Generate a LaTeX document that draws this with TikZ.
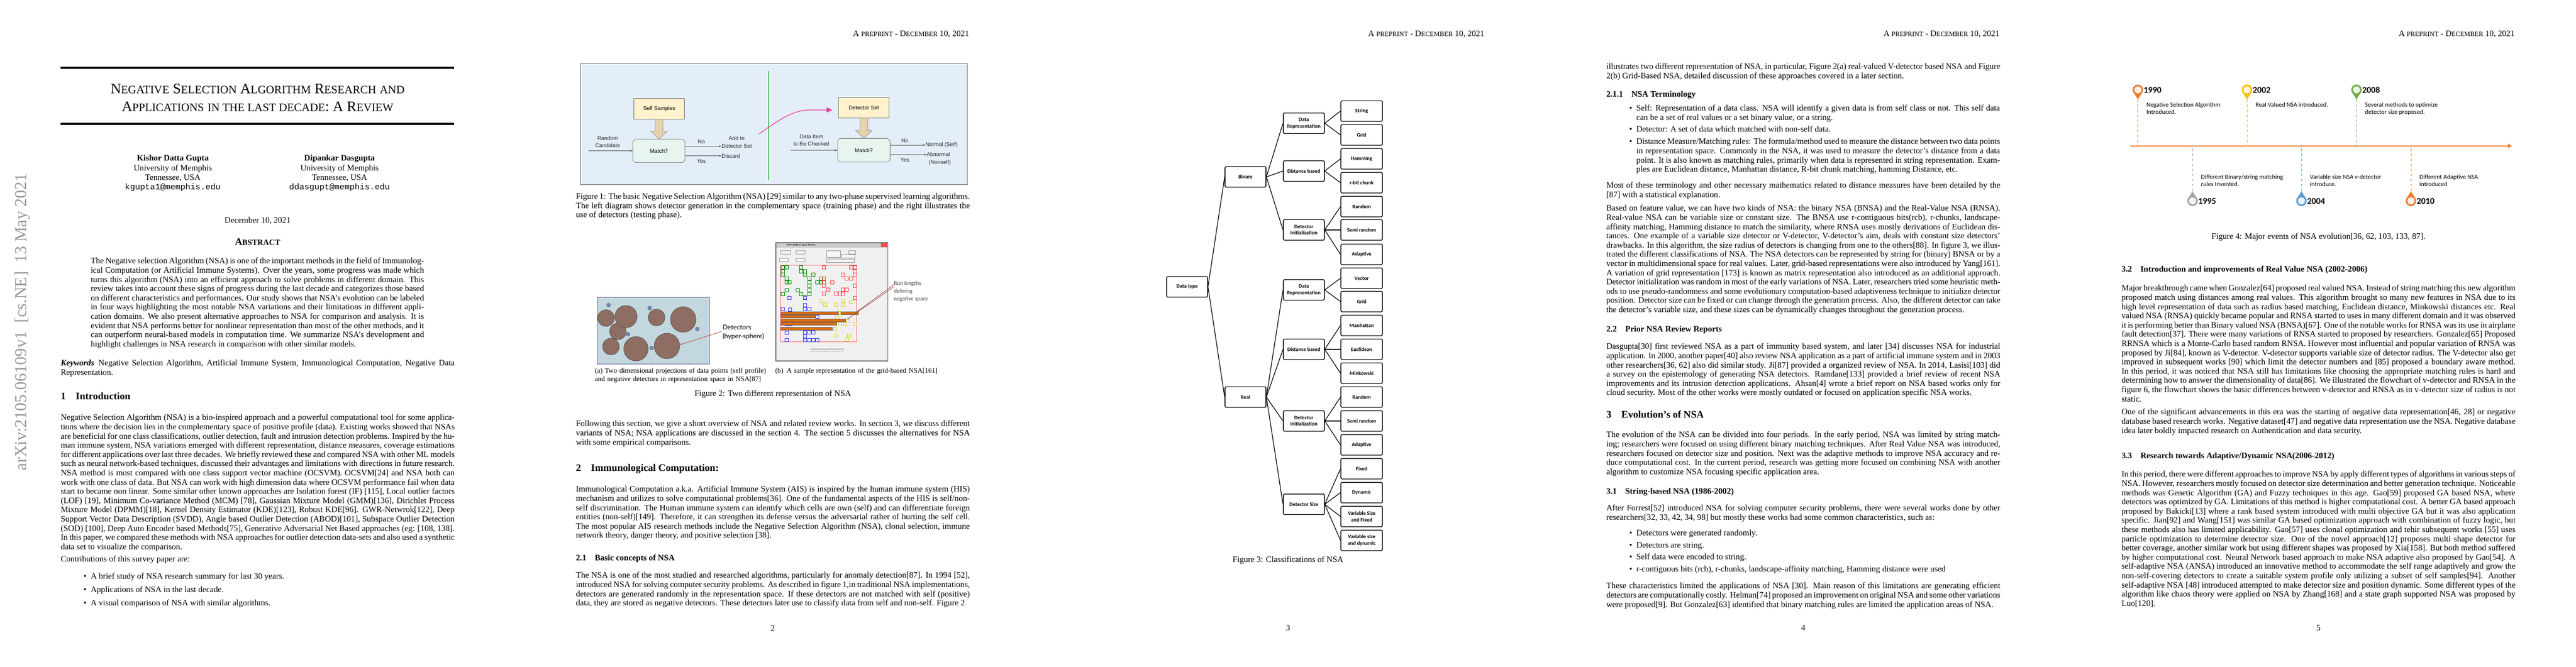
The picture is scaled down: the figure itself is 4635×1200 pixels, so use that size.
\documentclass[tikz,border=0pt]{standalone}
\usepackage{fontspec}
\setmainfont{Liberation Serif}
\setmonofont{Liberation Mono}
\newfontfamily\carlito{Carlito}
\newfontfamily\arialf{Liberation Sans}
\newfontfamily\gillf{Lato}
\usetikzlibrary{arrows.meta,calc}
\newdimen\pxu \pxu=0.6606pt
\newcommand\tsc[2]{#1{\fontsize{13.6}{13.6}\selectfont\MakeUppercase{#2}}}
\newcommand\hdr{A {\fontsize{8}{8}\selectfont PREPRINT} - D{\fontsize{8}{8}\selectfont ECEMBER} 10, 2021}
\definecolor{figblue}{HTML}{E3EEF9}
\definecolor{selfyel}{HTML}{FFF2CC}
\definecolor{matchgrn}{HTML}{E8F5EE}
\definecolor{tanarr}{HTML}{E6D3AE}
\definecolor{pinkarr}{HTML}{E8409A}
\definecolor{tlorange}{HTML}{ED7D31}
\definecolor{tlgold}{HTML}{FFC000}
\definecolor{tlgreen}{HTML}{70AD47}
\definecolor{tlgray}{HTML}{A5A5A5}
\definecolor{tlblue}{HTML}{5B9BD5}
\definecolor{brownc}{HTML}{8E6E63}
\definecolor{hsbg}{HTML}{C3D8DE}
\definecolor{smallc}{HTML}{7585B5}
\definecolor{barorg}{HTML}{E36C0A}
\definecolor{redarr}{HTML}{C0504D}
\tikzset{
 txt/.style={anchor=north west,inner sep=0pt,text width=6.5in,align=justify,font=\fontsize{10}{11}\selectfont},
 btxt/.style={txt,text width=6.0in},
 sec/.style={anchor=base west,inner sep=0pt,font=\fontsize{12}{14}\selectfont\bfseries},
 subsec/.style={anchor=base west,inner sep=0pt,font=\fontsize{10}{11}\selectfont\bfseries},
 pnum/.style={inner sep=0pt,font=\fontsize{10}{11}\selectfont},
 hdrs/.style={anchor=base east,inner sep=0pt,font=\fontsize{10}{11}\selectfont},
 capc/.style={inner sep=0pt,font=\fontsize{10}{11}\selectfont},
 fsans/.style={inner sep=1pt,font=\arialf\fontsize{6.5}{8.8}\selectfont,align=center,text=black!85},
 fbox/.style={draw=black!55,line width=0.5pt,font=\arialf\fontsize{6.5}{8}\selectfont},
 farr/.style={draw=black!65,line width=0.5pt,-{Stealth[length=3pt,width=2.4pt]}},
 tbox/.style={draw,line width=0.9pt,rounded corners=1.5pt,minimum width=74*\pxu,minimum height=37*\pxu,inner sep=1pt,align=center,font=\carlito\bfseries\fontsize{6.3}{7.6}\selectfont},
 tleaf/.style={tbox,minimum width=75*\pxu},
 tedge/.style={line width=0.8pt},
 tldot/.style={circle,inner sep=0pt,minimum size=3.2*\pxu},
 tlyear/.style={anchor=west,inner sep=0pt,font=\carlito\bfseries\fontsize{10.5}{12}\selectfont},
 tldesc/.style={anchor=north west,inner sep=0pt,align=left,font=\carlito\fontsize{7.5}{8.8}\selectfont},
}
\newcommand\pinU[6]{%
 \fill[#4] (#2,161.7) circle (9.5);
 \fill[#4] (#2-6.8,168) -- (#2+6.8,168) -- (#2,179) -- cycle;
 \fill[#4!12] (#2,161.7) circle (6.3);
 \coordinate (#1tip) at (#2,179);
 \node[tldot,fill=#4] (#1dot) at (#2,262.7) {};
 \draw[#4,dashed,line width=0.5pt] (#1tip) -- (#1dot);
 \node[tlyear] (#1y) at (#2+10,162) {#3};
 \node[tldesc] (#1d) at (#2+15,184) {#5\\#6};
}
\newcommand\pinD[6]{%
 \fill[#4] (#2,361.7) circle (9.5);
 \fill[#4] (#2-6.8,355.4) -- (#2+6.8,355.4) -- (#2,344.3) -- cycle;
 \fill[#4!12] (#2,361.7) circle (6.3);
 \coordinate (#1tip) at (#2,344.3);
 \node[tldot,fill=#4] (#1dot) at (#2,262.7) {};
 \draw[#4,dashed,line width=0.5pt] (#1tip) -- (#1dot);
 \node[tlyear] (#1y) at (#2+10,362) {#3};
 \node[tldesc] (#1d) at (#2+15,314) {#5\\#6};
}
\begin{document}
\begin{tikzpicture}[x=0.0091743in,y=-0.0091743in]
\useasboundingbox[fill=white] (0,0) rectangle (4635,1200);

%================ PAGE 1 ================
\node[rotate=90,inner sep=0pt,text=black!40,font=\fontsize{20}{20}\selectfont] (stamp) at (40,580) {arXiv:2105.06109v1\ \ [cs.NE]\ \ 13 May 2021};
\draw[line width=2pt] (109,122) -- (817,122);
\node[inner sep=0pt,align=center,font=\fontsize{17.28}{21}\selectfont] (title) at (463.5,176)
 {\tsc{N}{egative} \tsc{S}{election} \tsc{A}{lgorithm} \tsc{R}{esearch} \tsc{}{and}\\
  \tsc{A}{pplications} \tsc{}{in the last decade}: \tsc{A}{} \tsc{R}{eview}};
\draw[line width=2pt] (109,223) -- (817,223);
\node[inner sep=0pt,align=center,font=\fontsize{10}{11.5}\selectfont,anchor=north] (au1) at (311,279)
 {\textbf{Kishor Datta Gupta}\\University of Memphis\\Tennessee, USA\\\texttt{kgupta1@memphis.edu}};
\node[inner sep=0pt,align=center,font=\fontsize{10}{11.5}\selectfont,anchor=north] (au2) at (611,279)
 {\textbf{Dipankar Dasgupta}\\University of Memphis\\Tennessee, USA\\\texttt{ddasgupt@memphis.edu}};
\node[capc] (date) at (463.5,397) {December 10, 2021};
\node[capc,font=\fontsize{12}{14}\selectfont\bfseries] (abs) at (463.5,436) {A{\fontsize{9.6}{9.6}\selectfont BSTRACT}};
\node[txt,text width=5.5in] (abstxt) at (163,464) {The Negative selection Algorithm (NSA) is one of the important methods in the field of Immunological Computation (or Artificial Immune Systems). Over the years, some progress was made which turns this algorithm (NSA) into an efficient approach to solve problems in different domain. This review takes into account these signs of progress during the last decade and categorizes those based on different characteristics and performances. Our study shows that NSA's evolution can be labeled in four ways highlighting the most notable NSA variations and their limitations in different application domains. We also present alternative approaches to NSA for comparison and analysis. It is evident that NSA performs better for nonlinear representation than most of the other methods, and it can outperform neural-based models in computation time. We summarize NSA's development and highlight challenges in NSA research in comparison with other similar models.};
\node[txt] (kw) at (109,648) {\textbf{\textit{Keywords}}\enspace Negative Selection Algorithm, Artificial Immune System, Immunological Computation, Negative Data Representation.};
\node[sec] (s1) at (109,719) {1\quad Introduction};
\node[txt] (intro) at (109,746) {Negative Selection Algorithm (NSA) is a bio-inspired approach and a powerful computational tool for some applications where the decision lies in the complementary space of positive profile (data). Existing works showed that NSAs are beneficial for one class classifications, outlier detection, fault and intrusion detection problems. Inspired by the human immune system, NSA variations emerged with different representation, distance measures, coverage estimations for different applications over last three decades. We briefly reviewed these and compared NSA with other ML models such as neural network-based techniques, discussed their advantages and limitations with directions in future research. NSA method is most compared with one class support vector machine (OCSVM). OCSVM[24] and NSA both can work with one class of data. But NSA can work with high dimension data where OCSVM performance fail when data start to became non linear. Some similar other known approaches are Isolation forest (IF) [115], Local outlier factors (LOF) [19], Minimum Co-variance Method (MCM) [78], Gaussian Mixture Model (GMM)[136], Dirichlet Process Mixture Model (DPMM)[18], Kernel Density Estimator (KDE)[123], Robust KDE[96]. GWR-Netwrok[122], Deep Support Vector Data Description (SVDD), Angle based Outlier Detection (ABOD)[101], Subspace Outlier Detection (SOD) [100], Deep Auto Encoder based Methods[75], Generative Adversarial Net Based approaches (eg: [108, 138]. In this paper, we compared these methods with NSA approaches for outlier detection data-sets and also used a synthetic data set to visualize the comparison.};
\node[txt] (contrib) at (109,1001) {Contributions of this survey paper are:};
\node[btxt] (c1) at (163,1032) {\llap{\textbullet\hspace{5pt}}A brief study of NSA research summary for last 30 years.};
\node[btxt] (c2) at (163,1056) {\llap{\textbullet\hspace{5pt}}Applications of NSA in the last decade.};
\node[btxt] (c3) at (163,1080) {\llap{\textbullet\hspace{5pt}}A visual comparison of NSA with similar algorithms.};

%================ PAGE 2 ================
\begin{scope}[shift={(927,0)}]
\node[hdrs] (h2) at (817,65) {\hdr};
% figure 1
\draw[draw=black!55,fill=figblue,line width=0.6pt] (117.5,114.7) rectangle (813.6,332.7);
\draw[green!60!black,line width=0.6pt] (455,128) -- (455,324);
\node[fbox,fill=selfyel,minimum width=91.5*\pxu,minimum height=36.3*\pxu] (ss) at (259.2,195.9) {Self Samples};
\node[fbox,fill=matchgrn,rounded corners=4pt,minimum width=93.8*\pxu,minimum height=42*\pxu] (m1) at (258.6,271.7) {Match?};
\draw[fill=tanarr,draw=black!50,line width=0.4pt] ($(ss.south)+(-7,0)$) -- ($(m1.north)+(-7,-14)$) -- ($(m1.north)+(-15,-14)$) -- (m1.north) -- ($(m1.north)+(15,-14)$) -- ($(m1.north)+(7,-14)$) -- ($(ss.south)+(7,0)$) -- cycle;
\node[fsans] (rc) at (166.4,255.5) {Random\\Candidate};
\coordinate (rcs) at (132,271.7);
\draw[farr] (rcs) -- (m1.west);
\node[fsans,anchor=west,inner sep=0pt] (dset) at (371,263.3) {Detector Set};
\node[fsans] (addto) at (dset.north |- 0,249) {Add to};
\node[fsans,anchor=west,inner sep=0pt] (disc) at (371,280.7) {Discard};
\draw[farr] (m1.east |- dset.west) -- (dset.west);
\draw[farr] (m1.east |- disc.west) -- (disc.west);
\node[fsans] (no1) at (335,254.7) {No};
\node[fsans] (yes1) at (335,290.3) {Yes};
\node[fbox,fill=selfyel,minimum width=91.3*\pxu,minimum height=36.3*\pxu] (ds) at (627.3,193.9) {Detector Set};
\node[fbox,fill=matchgrn,rounded corners=4pt,minimum width=94.6*\pxu,minimum height=42.4*\pxu] (m2) at (627.3,270.5) {Match?};
\draw[fill=tanarr,draw=black!50,line width=0.4pt] ($(ds.south)+(-7,0)$) -- ($(m2.north)+(-7,-14)$) -- ($(m2.north)+(-15,-14)$) -- (m2.north) -- ($(m2.north)+(15,-14)$) -- ($(m2.north)+(7,-14)$) -- ($(ds.south)+(7,0)$) -- cycle;
\coordinate (pk) at (439,241);
\draw[pinkarr,line width=0.8pt,-{Triangle[length=7pt,width=6pt]},shorten >=7pt] (pk) .. controls (485,208) and (505,198) .. (532,198) -- (ds.west |- 0,198);
\node[fsans] (ditem) at (533,252.5) {Data Item\\to Be Checked};
\coordinate (dis) at (495.7,270.5);
\draw[farr] (dis) -- (m2.west);
\node[fsans,anchor=west,inner sep=0pt] (norm) at (738,261) {Normal (Self)};
\node[fsans,anchor=west,inner sep=0pt] (abn) at (740,278.3) {Abnormal};
\node[fsans,inner sep=0pt] (nons) at (764,293) {(Nonself)};
\draw[farr] (m2.east |- norm.west) -- (norm.west);
\draw[farr] (m2.east |- abn.west) -- (abn.west);
\node[fsans] (no2) at (701,252.7) {No};
\node[fsans] (yes2) at (701,288.3) {Yes};
\node[txt] (cap1) at (109,348) {Figure 1: The basic Negative Selection Algorithm (NSA) [29] similar to any two-phase supervised learning algorithms. The left diagram shows detector generation in the complementary space (training phase) and the right illustrates the use of detectors (testing phase).};
% figure 2a
\draw[fill=hsbg,draw=black!60!blue!60,line width=0.6pt] (147,535.7) rectangle (349,655.7);
\foreach \cx/\cy/\r in {163.4/572.7/15, 184.8/596.7/15, 199.4/570/20, 172.3/624/15, 217.3/628/22, 254.4/571.7/15, 302.3/575.3/23, 273/623/23}
  \draw[fill=brownc,draw=black!70,line width=0.4pt] (\cx,\cy) circle (\r);
\foreach \cx/\cy in {168/549.3, 242/554.7, 203/601.7, 327.6/592.3, 245.5/626.7}
  \draw[fill=smallc,draw=black!60,line width=0.3pt] (\cx,\cy) circle (3.6);
\node[anchor=west,inner sep=0pt,align=left,font=\gillf\fontsize{7.8}{10.5}\selectfont] (detl) at (373,598) {Detectors\\(hyper-sphere)};
\coordinate (dett) at (295.5,621);
\draw[redarr,line width=0.6pt,-{Stealth[length=3pt]}] ($(detl.west)+(-2,-1)$) -- (dett);
% figure 2b
\draw[fill=black!6,draw=black!55,line width=0.8pt] (469,437) rectangle (670.5,650);
\fill[black!20] (469.5,437.5) rectangle (670,446);
\fill[red!70] (658,438) rectangle (669,445);
\node[anchor=west,inner sep=0pt,font=\fontsize{2.6}{3}\selectfont\bfseries] (wtitle) at (488,441.5) {MIT Cell Based Space Division};
\foreach \a/\b/\w in {963/63/50, 1042/63/45, 1308/63/35}
  \draw[fill=black!3,draw=black!40,line width=0.3pt] (133+\a/2.8,430+\b/3) rectangle ++(\w/2.8,6);
\draw[fill=black!3,draw=black!40,line width=0.3pt] (133+1195/2.8,430+63/3) rectangle ++(70/2.8,12);
\draw[fill=black!3,draw=black!40,line width=0.3pt] (133+1270/2.8,430+85/3) rectangle ++(70/2.8,6);
\draw[fill=black!3,draw=black!40,line width=0.3pt] (133+1195/2.8,430+110/3) rectangle ++(140/2.8,6);
\draw[fill=white,draw=black!40,line width=0.3pt] (133+958/2.8,430+105/3) rectangle ++(45/2.8,5);
\draw[fill=black!3,draw=black!40,line width=0.3pt] (133+1042/2.8,430+105/3) rectangle ++(45/2.8,6);
\draw[red!60,line width=0.4pt] (477.6,477) rectangle (614.4,615);
\foreach \a/\b in {967/145,985/145,967/165,967/185,985/205,985/225,1060/145,1060/165,1080/165,1080/185,1100/205,1100/225,1100/245,1120/185,1140/225,1160/205,1160/225,1000/225,985/268,967/288,1042/268,1060/288,1080/308,1100/268,1100/288}
  \draw[green!55!black,line width=0.4pt] (133+\a/2.8,430+\b/3) rectangle ++(6,6);
\foreach \a/\b in {1175/145,1310/145,1330/145,1330/165,1330/185,1270/185,1290/205,1310/205,1175/205,1175/225,1215/225,1175/245,1195/265,1175/285,1235/285,1255/285,1270/265,1290/265,1270/285,1330/245,1330/310}
  \draw[red!75,line width=0.4pt] (133+\a/2.8,430+\b/3) rectangle ++(6,6);
\foreach \a/\b in {1160/325,1180/345,1235/345,1270/345,1270/325,1310/330,1250/390,1240/415,1295/432,1255/452,1280/452,1330/452,1230/477,1235/515,1300/515,1290/535}
  \draw[yellow!85!black,line width=0.4pt] (133+\a/2.8,430+\b/3) rectangle ++(6,6);
\foreach \a/\b in {1000/310,1080/310,967/370,1003/372,1080/350,1080/370,1100/370,1140/413,985/452,1005/452,985/500,1080/497,1100/497,1120/497,1080/517,1080/537,1100/537,1120/537,1140/537,985/537}
  \draw[blue!75,line width=0.4pt] (133+\a/2.8,430+\b/3) rectangle ++(6,6);
\foreach \xa/\xb/\ya in {478.4/581/561.7, 586.6/617/561.7, 478.4/540/567.7, 478.4/594.7/574, 478.4/578.7/580.7, 478.4/570.5/589}
  \draw[fill=barorg,draw=black!60,line width=0.3pt] (\xa,\ya) rectangle (\xb,\ya+5);
\draw[black!50,line width=0.4pt] (531,628) -- (591,628);
\draw[black!50,line width=0.3pt,densely dotted] (531,632) -- (591,632);
\node[anchor=north west,inner sep=0pt,align=left,font=\gillf\fontsize{6.3}{9.2}\selectfont,text=black!75] (runl) at (681,506) {Run lengths\\defining\\negative space};
\coordinate (rt1) at (615,561);
\coordinate (rt2) at (597,575);
\draw[redarr!80!black,line width=0.5pt,-{Stealth[length=2.5pt]}] ($(runl.north west)+(1,6)$) -- (rt1);
\draw[redarr!80!black,line width=0.5pt,-{Stealth[length=2.5pt]}] ($(runl.north west)+(1,10)$) -- (rt2);
\node[txt,text width=3.0in,align=left,font=\fontsize{8.3}{10}\selectfont] (sa) at (143,662) {(a) Two dimensional projections of data points (self profile) and negative detectors in representation space in NSA[87]};
\node[txt,text width=3.0in,align=left,font=\fontsize{8.3}{10}\selectfont] (sb) at (467.5,662) {(b)\enspace A sample representation of the grid-based NSA[161]};
\node[capc] (cap2) at (463.5,710) {Figure 2: Two different representation of NSA};
\node[txt] (follow) at (109,757) {Following this section, we give a short overview of NSA and related review works. In section 3, we discuss different variants of NSA; NSA applications are discussed in the section 4. The section 5 discusses the alternatives for NSA with some empirical comparisons.};
\node[sec] (s2) at (109,848) {2\quad Immunological Computation:};
\node[txt] (imm) at (109,875) {Immunological Computation a.k.a. Artificial Immune System (AIS) is inspired by the human immune system (HIS) mechanism and utilizes to solve computational problems[36]. One of the fundamental aspects of the HIS is self/non-self discrimination. The Human immune system can identify which cells are own (self) and can differentiate foreign entities (non-self)[149]. Therefore, it can strengthen its defense versus the adversarial rather of hurting the self cell. The most popular AIS research methods include the Negative Selection Algorithm (NSA), clonal selection, immune network theory, danger theory, and positive selection [38].};
\node[subsec] (s21) at (109,1009) {2.1\quad Basic concepts of NSA};
\node[txt] (basic) at (109,1030) {The NSA is one of the most studied and researched algorithms, particularly for anomaly detection[87]. In 1994 [52], introduced NSA for solving computer security problems. As described in figure 1,in traditional NSA implementations, detectors are generated randomly in the representation space. If these detectors are not matched with self (positive) data, they are stored as negative detectors. These detectors later use to classify data from self and non-self. Figure 2};
\node[pnum] (pn2) at (463.5,1131) {2};
\end{scope}

%================ PAGE 3 ================
\begin{scope}[shift={(1854,0)}]
\node[hdrs] (h3) at (817,65) {\hdr};
\node[tbox] (dt) at (282,516.5) {Data type};
\node[tbox] (bin) at (387,318.5) {Binary};
\node[tbox] (real) at (387,715) {Real};
\node[tbox] (b1) at (492,222) {Data\\Representation};
\node[tbox] (b2) at (492,308) {Distance based};
\node[tbox] (b3) at (492,414) {Detector\\Initialization};
\node[tbox] (r1) at (492,522) {Data\\Representation};
\node[tbox] (r2) at (492,629) {Distance based};
\node[tbox] (r3) at (492,758) {Detector\\Initialization};
\node[tbox] (r4) at (492,908) {Detector Size};
\node[tleaf] (l1) at (596,200) {String};
\node[tleaf] (l2) at (596,243) {Grid};
\node[tleaf] (l3) at (596,286) {Hamming};
\node[tleaf] (l4) at (596,329) {r-bit chunk};
\node[tleaf] (l5) at (596,372) {Random};
\node[tleaf] (l6) at (596,414) {Semi random};
\node[tleaf] (l7) at (596,458) {Adaptive};
\node[tleaf] (l8) at (596,501) {Vector};
\node[tleaf] (l9) at (596,543) {Grid};
\node[tleaf] (l10) at (596,586) {Manhattan};
\node[tleaf] (l11) at (596,629) {Euclidean};
\node[tleaf] (l12) at (596,672) {Minkowski};
\node[tleaf] (l13) at (596,715) {Random};
\node[tleaf] (l14) at (596,758) {Semi random};
\node[tleaf] (l15) at (596,801) {Adaptive};
\node[tleaf] (l16) at (596,844) {Fixed};
\node[tleaf] (l17) at (596,887) {Dynamic};
\node[tleaf] (l18) at (596,930) {Variable Size\\and Fixed};
\node[tleaf] (l19) at (596,973) {Variable size\\and\ dynamic};
\foreach \p/\c in {dt/bin,dt/real,bin/b1,bin/b2,bin/b3,real/r1,real/r2,real/r3,real/r4,b1/l1,b1/l2,b2/l3,b2/l4,b3/l5,b3/l6,b3/l7,r1/l8,r1/l9,r2/l10,r2/l11,r2/l12,r3/l13,r3/l14,r3/l15,r4/l16,r4/l17,r4/l18,r4/l19}
  \draw[tedge] (\p.east) -- (\c.west);
\node[capc] (cap3) at (463.5,1009) {Figure 3: Classifications of NSA};
\node[pnum] (pn3) at (463.5,1131) {3};
\end{scope}

%================ PAGE 4 ================
\begin{scope}[shift={(2781,0)}]
\node[hdrs] (h4) at (817,65) {\hdr};
\node[txt] (p4a) at (109,114) {illustrates two different representation of NSA, in particular, Figure 2(a) real-valued V-detector based NSA and Figure 2(b) Grid-Based NSA, detailed discussion of these approaches covered in a later section.};
\node[subsec] (s211) at (109,174) {2.1.1\quad NSA Terminology};
\node[btxt] (t1) at (163,189) {\llap{\textbullet\hspace{5pt}}Self: Representation of a data class. NSA will identify a given data is from self class or not. This self data can be a set of real values or a set binary value, or a string.};
\node[btxt] (t2) at (163,227) {\llap{\textbullet\hspace{5pt}}Detector: A set of data which matched with non-self data.};
\node[btxt] (t3) at (163,249) {\llap{\textbullet\hspace{5pt}}Distance Measure/Matching rules: The formula/method used to measure the distance between two data points in representation space. Commonly in the NSA, it was used to measure the detector's distance from a data point. It is also known as matching rules, primarily when data is represented in string representation. Examples are Euclidean distance, Manhattan distance, R-bit chunk matching, hamming Distance, etc.};
\node[txt] (p4b) at (109,328) {Most of these terminology and other necessary mathematics related to distance measures have been detailed by the [87] with a statistical explanation.};
\node[txt] (p4c) at (109,369) {Based on feature value, we can have two kinds of NSA: the binary NSA (BNSA) and the Real-Value NSA (RNSA). Real-value NSA can be variable size or constant size. The BNSA use r-contiguous bits(rcb), r-chunks, landscape-affinity matching, Hamming distance to match the similarity, where RNSA uses mostly derivations of Euclidean distances. One example of a variable size detector or V-detector, V-detector's aim, deals with constant size detectors' drawbacks. In this algorithm, the size radius of detectors is changing from one to the others[88]. In figure 3, we illustrated the different classifications of NSA. The NSA detectors can be represented by string for (binary) BNSA or by a vector in multidimensional space for real values. Later, grid-based representations were also introduced by Yang[161]. A variation of grid representation [173] is known as matrix representation also introduced as an additional approach. Detector initialization was random in most of the early variations of NSA. Later, researchers tried some heuristic methods to use pseudo-randomness and some evolutionary computation-based adaptiveness technique to initialize detector position. Detector size can be fixed or can change through the generation process. Also, the different detector can take the detector's variable size, and these sizes can be dynamically changes throughout the generation process.};
\node[subsec] (s22) at (109,597) {2.2\quad Prior NSA Review Reports};
\node[txt] (p4d) at (109,618) {Dasgupta[30] first reviewed NSA as a part of immunity based system, and later [34] discusses NSA for industrial application. In 2000, another paper[40] also review NSA application as a part of artificial immune system and in 2003 other researchers[36, 62] also did similar study. Ji[87] provided a organized review of NSA. In 2014, Lasisi[103] did a survey on the epistemology of generating NSA detectors. Ramdane[133] provided a brief review of recent NSA improvements and its intrusion detection applications. Ahsan[4] wrote a brief report on NSA based works only for cloud security. Most of the other works were mostly outdated or focused on application specific NSA works.};
\node[sec] (s3) at (109,752) {3\quad Evolution's of NSA};
\node[txt] (p4e) at (109,777) {The evolution of the NSA can be divided into four periods. In the early period, NSA was limited by string matching; researchers were focused on using different binary matching techniques. After Real Value NSA was introduced, researchers focused on detector size and position. Next was the adaptive methods to improve NSA accuracy and reduce computational cost. In the current period, research was getting more focused on combining NSA with another algorithm to customize NSA focusing specific application area.};
\node[subsec] (s31) at (109,889) {3.1\quad String-based NSA (1986-2002)};
\node[txt] (p4f) at (109,909) {After Forrest[52] introduced NSA for solving computer security problems, there were several works done by other researchers[32, 33, 42, 34, 98] but mostly these works had some common characteristics, such as:};
\node[btxt] (d1) at (163,954) {\llap{\textbullet\hspace{5pt}}Detectors were generated randomly.};
\node[btxt] (d2) at (163,976) {\llap{\textbullet\hspace{5pt}}Detectors are string.};
\node[btxt] (d3) at (163,997) {\llap{\textbullet\hspace{5pt}}Self data were encoded to string.};
\node[btxt] (d4) at (163,1019) {\llap{\textbullet\hspace{5pt}}r-contiguous bits (rcb), r-chunks, landscape-affinity matching, Hamming distance were used};
\node[txt] (p4g) at (109,1049) {These characteristics limited the applications of NSA [30]. Main reason of this limitations are generating efficient detectors are computationally costly. Helman[74] proposed an improvement on original NSA and some other variations were proposed[9]. But Gonzalez[63] identified that binary matching rules are limited the application areas of NSA.};
\node[pnum] (pn4) at (463.5,1131) {4};
\end{scope}

%================ PAGE 5 ================
\begin{scope}[shift={(3708,0)}]
\node[hdrs] (h5) at (817,65) {\hdr};
\coordinate (axs) at (124.7,262.7);
\coordinate (axe) at (812,262.7);
\draw[tlorange,line width=1.1pt,-{Triangle[length=5pt,width=5pt]}] (axs) -- (axe);
\pinU{e90}{138.7}{1990}{tlorange}{Negative Selection Algorithm}{Introduced.}
\pinD{e95}{237}{1995}{tlgray}{Different Binary/string matching}{rules Invented.}
\pinU{e02}{335}{2002}{tlgold}{Real Valued NSA introduced.}{}
\pinD{e04}{433}{2004}{tlblue}{Variable size NSA v-detector}{introduce.}
\pinU{e08}{532}{2008}{tlgreen}{Several methods to optimize}{detector size proposed.}
\pinD{e10}{630}{2010}{tlorange}{Different Adaptive NSA}{introduced}
\node[capc] (cap4) at (463.5,427) {Figure 4: Major events of NSA evolution[36, 62, 103, 133, 87].};
\node[subsec] (s32) at (109,489) {3.2\quad Introduction and improvements of Real Value NSA (2002-2006)};
\node[txt] (p5a) at (109,513) {Major breakthrough came when Gonzalez[64] proposed real valued NSA. Instead of string matching this new algorithm proposed match using distances among real values. This algorithm brought so many new features in NSA due to its high level representation of data such as radius based matching, Euclidean distance, Minkowski distances etc. Real valued NSA (RNSA) quickly became popular and RNSA started to uses in many different domain and it was observed it is performing better than Binary valued NSA (BNSA)[67]. One of the notable works for RNSA was its use in airplane fault detection[37]. There were many variations of RNSA started to proposed by researchers. Gonzalez[65] Proposed RRNSA which is a Monte-Carlo based random RNSA. However most influential and popular variation of RNSA was proposed by Ji[84], known as V-detector. V-detector supports variable size of detector radius. The V-detector also get improved in subsequent works [90] which limit the detector numbers and [85] proposed a boundary aware method. In this period, it was noticed that NSA still has limitations like choosing the appropriate matching rules is hard and determining how to answer the dimensionality of data[86]. We illustrated the flowchart of v-detector and RNSA in the figure 6, the flowchart shows the basic differences between v-detector and RNSA as in v-detector size of radius is not static.};
\node[txt] (p5b) at (109,736) {One of the significant advancements in this era was the starting of negative data representation[46, 28] or negative database based research works. Negative dataset[47] and negative data representation use the NSA. Negative database idea later boldly impacted research on Authentication and data security.};
\node[subsec] (s33) at (109,825) {3.3\quad Research towards Adaptive/Dynamic NSA(2006-2012)};
\node[txt] (p5c) at (109,848) {In this period, there were different approaches to improve NSA by apply different types of algorithms in various steps of NSA. However, researchers mostly focused on detector size determination and better generation technique. Noticeable methods was Genetic Algorithm (GA) and Fuzzy techniques in this age. Gao[59] proposed GA based NSA, where detectors was optimized by GA. Limitations of this method is higher computational cost. A better GA based approach proposed by Bakicki[13] where a rank based system introduced with multi objective GA but it was also application specific. Jian[92] and Wang[151] was similar GA based optimization approach with combination of fuzzy logic, but these methods also has limited applicability. Gao[57] uses clonal optimization and tehir subsequent works [55] uses particle optimization to determine detector size. One of the novel approach[12] proposes multi shape detector for better coverage, another similar work but using different shapes was proposed by Xia[158]. But both method suffered by higher computational cost. Neural Network based approach to make NSA adaptive also proposed by Gao[54]. A self-adaptive NSA (ANSA) introduced an innovative method to accommodate the self range adaptively and grow the non-self-covering detectors to create a suitable system profile only utilizing a subset of self samples[94]. Another self-adaptive NSA [48] introduced attempted to make detector size and position dynamic. Some different types of the algorithm like chaos theory were applied on NSA by Zhang[168] and a state graph supported NSA was proposed by Luo[120].};
\node[pnum] (pn5) at (463.5,1131) {5};
\end{scope}
\end{tikzpicture}
\end{document}
